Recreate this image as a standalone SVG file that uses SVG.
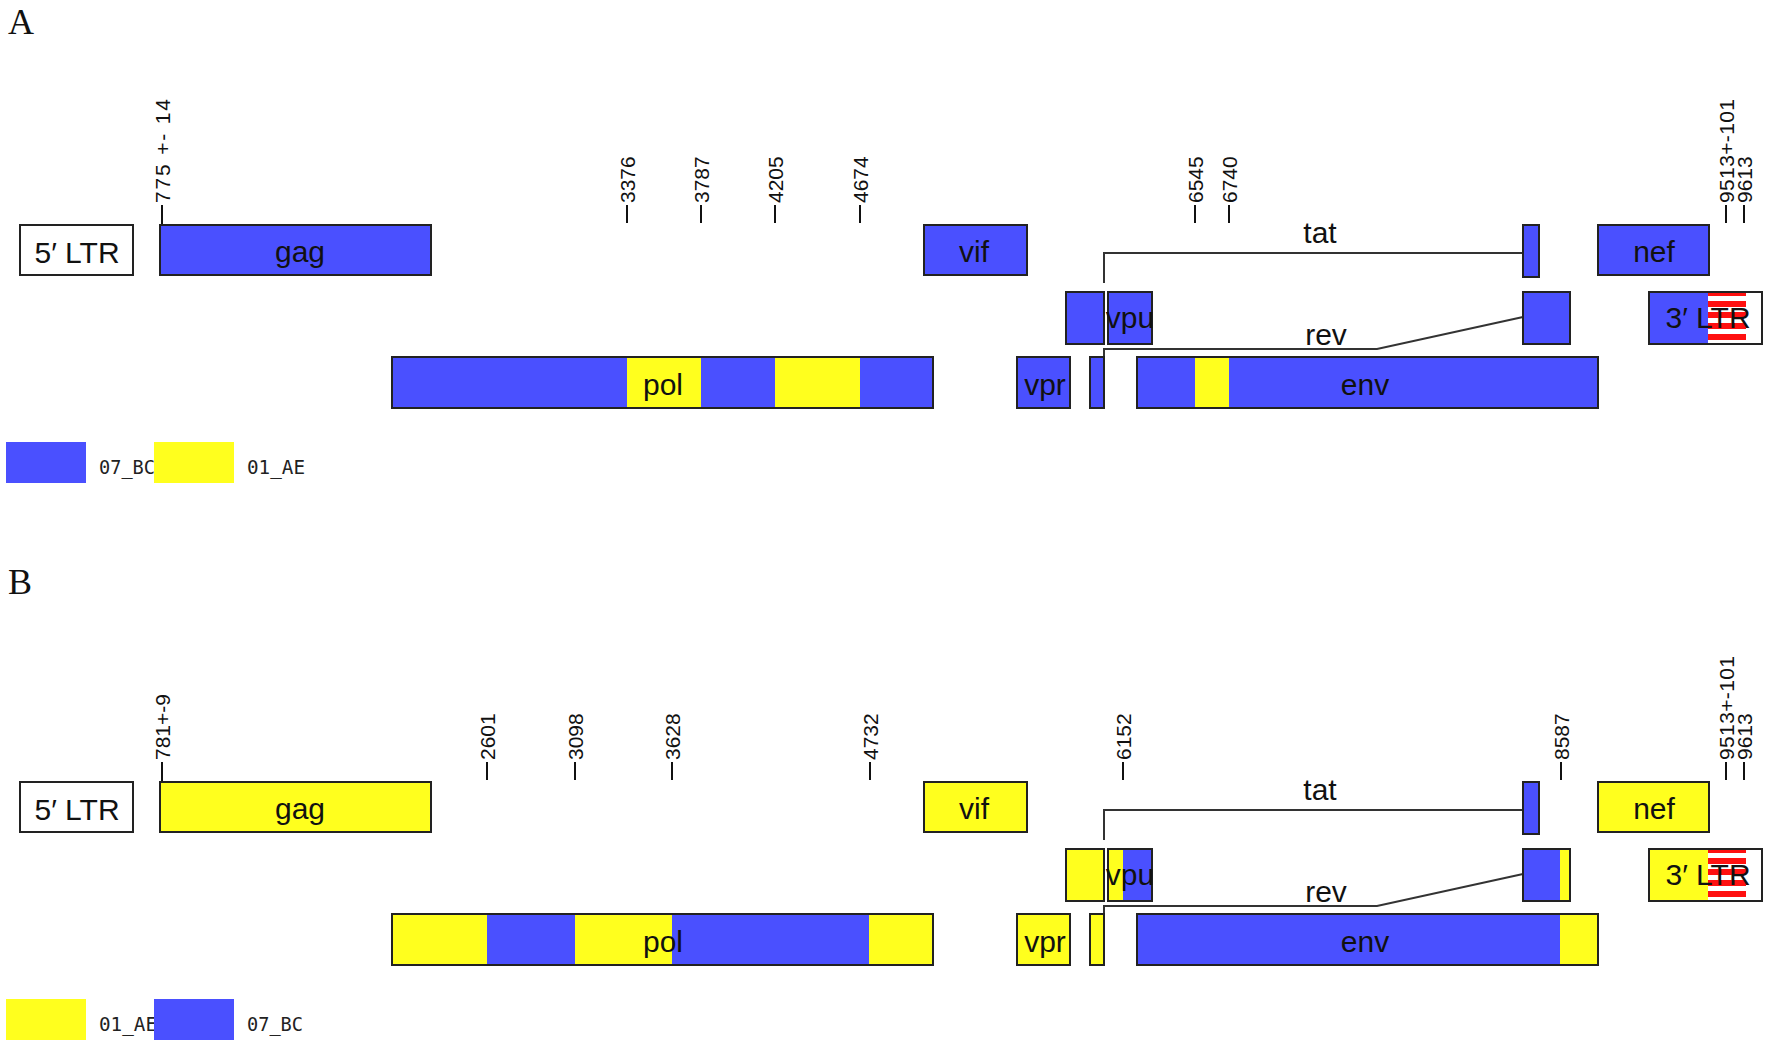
<svg xmlns="http://www.w3.org/2000/svg" width="1772" height="1048" viewBox="0 0 1772 1048">
<defs>
<style>
.bl{fill:#4a50ff}
.ye{fill:#ffff1e}
.wh{fill:#ffffff}
.rd{fill:#ff1010}
.ol{fill:none;stroke:#222;stroke-width:2}
.gl{font-family:"Liberation Sans",Arial,sans-serif;font-size:30px;text-anchor:middle;fill:#111}
.tk{font-family:"Liberation Sans",Arial,sans-serif;font-size:21px;fill:#111}
.tl{stroke:#111;stroke-width:2}
.lg{font-family:"DejaVu Sans Mono",monospace;font-size:19px;fill:#222}
.pn{font-family:"Liberation Serif","Times New Roman",serif;font-size:36px;fill:#111}
.cn{fill:none;stroke:#333;stroke-width:2}
</style>
<g id="stripes">
<rect class="wh" x="1708" y="293" width="38" height="51"/>
<rect class="rd" x="1708" y="293" width="38" height="3"/>
<rect class="rd" x="1708" y="301" width="38" height="6"/>
<rect class="rd" x="1708" y="312" width="38" height="6"/>
<rect class="rd" x="1708" y="323" width="38" height="6"/>
<rect class="rd" x="1708" y="334" width="38" height="6"/>
</g>
</defs>
<rect width="1772" height="1048" fill="#ffffff"/>

<!-- ================= PANEL A ================= -->
<g id="panelA">
<text class="pn" x="8" y="34">A</text>

<g id="A-ticks">
<line class="tl" x1="162" y1="205" x2="162" y2="224"/><text class="tk" transform="translate(170,203) rotate(-90)" textLength="104" lengthAdjust="spacing">775 +- 14</text>
<line class="tl" x1="627" y1="205" x2="627" y2="223"/><text class="tk" transform="translate(635,203) rotate(-90)">3376</text>
<line class="tl" x1="701" y1="205" x2="701" y2="223"/><text class="tk" transform="translate(709,203) rotate(-90)">3787</text>
<line class="tl" x1="775" y1="205" x2="775" y2="223"/><text class="tk" transform="translate(783,203) rotate(-90)">4205</text>
<line class="tl" x1="860" y1="205" x2="860" y2="223"/><text class="tk" transform="translate(868,203) rotate(-90)">4674</text>
<line class="tl" x1="1195" y1="205" x2="1195" y2="223"/><text class="tk" transform="translate(1203,203) rotate(-90)">6545</text>
<line class="tl" x1="1229" y1="205" x2="1229" y2="223"/><text class="tk" transform="translate(1237,203) rotate(-90)">6740</text>
<line class="tl" x1="1726" y1="205" x2="1726" y2="223"/><text class="tk" transform="translate(1734,203) rotate(-90)" textLength="104" lengthAdjust="spacing">9513+-101</text>
<line class="tl" x1="1744" y1="205" x2="1744" y2="223"/><text class="tk" transform="translate(1752,203) rotate(-90)">9613</text>
</g>

<g id="A-connectors">
<polyline class="cn" points="1104,283 1104,253 1523,253"/>
<polyline class="cn" points="1104,408 1104,349 1377,349 1523,317"/>
</g>

<g id="A-5LTR"><rect class="wh" x="20" y="225" width="113" height="50"/><rect class="ol" x="20" y="225" width="113" height="50"/><text class="gl" x="77" y="263">5′ LTR</text></g>
<g id="A-gag"><rect class="bl" x="160" y="225" width="271" height="50"/><rect class="ol" x="160" y="225" width="271" height="50"/><text class="gl" x="300" y="262">gag</text></g>
<g id="A-pol"><rect class="bl" x="392" y="357" width="541" height="51"/><rect class="ye" x="627" y="357" width="74" height="51"/><rect class="ye" x="775" y="357" width="85" height="51"/><rect class="ol" x="392" y="357" width="541" height="51"/><text class="gl" x="663" y="395">pol</text></g>
<g id="A-vif"><rect class="bl" x="924" y="225" width="103" height="50"/><rect class="ol" x="924" y="225" width="103" height="50"/><text class="gl" x="974" y="262">vif</text></g>
<g id="A-vpr"><rect class="bl" x="1017" y="357" width="53" height="51"/><rect class="ol" x="1017" y="357" width="53" height="51"/><text class="gl" x="1045" y="395">vpr</text></g>
<g id="A-tat1"><rect class="bl" x="1066" y="292" width="38" height="52"/><rect class="ol" x="1066" y="292" width="38" height="52"/></g>
<g id="A-vpu"><rect class="bl" x="1108" y="292" width="44" height="52"/><rect class="ol" x="1108" y="292" width="44" height="52"/><text class="gl" x="1130" y="328">vpu</text></g>
<g id="A-rev1"><rect class="bl" x="1090" y="357" width="14" height="51"/><rect class="ol" x="1090" y="357" width="14" height="51"/></g>
<g id="A-env"><rect class="bl" x="1137" y="357" width="461" height="51"/><rect class="ye" x="1195" y="357" width="34" height="51"/><rect class="ol" x="1137" y="357" width="461" height="51"/><text class="gl" x="1365" y="395">env</text></g>
<g id="A-tat"><rect class="bl" x="1523" y="225" width="16" height="52"/><rect class="ol" x="1523" y="225" width="16" height="52"/><text class="gl" x="1320" y="243">tat</text></g>
<g id="A-rev"><rect class="bl" x="1523" y="292" width="47" height="52"/><rect class="ol" x="1523" y="292" width="47" height="52"/><text class="gl" x="1326" y="345">rev</text></g>
<g id="A-nef"><rect class="bl" x="1598" y="225" width="111" height="50"/><rect class="ol" x="1598" y="225" width="111" height="50"/><text class="gl" x="1654" y="262">nef</text></g>
<g id="A-3LTR"><rect class="wh" x="1649" y="292" width="113" height="52"/><rect class="bl" x="1649" y="292" width="59" height="52"/><use href="#stripes"/><rect class="ol" x="1649" y="292" width="113" height="52"/><text class="gl" x="1708" y="328">3′ LTR</text></g>

<g id="A-legend">
<rect class="bl" x="6" y="442" width="80" height="41"/>
<text class="lg" x="99" y="474" textLength="56" lengthAdjust="spacingAndGlyphs">07_BC</text>
<rect class="ye" x="154" y="442" width="80" height="41"/>
<text class="lg" x="247" y="474" textLength="58" lengthAdjust="spacingAndGlyphs">01_AE</text>
</g>
</g>

<!-- ================= PANEL B ================= -->
<g id="panelB" transform="translate(0,557)">
<text class="pn" x="8" y="37">B</text>

<g id="B-ticks">
<line class="tl" x1="162" y1="205" x2="162" y2="224"/><text class="tk" transform="translate(170,203) rotate(-90)">781+-9</text>
<line class="tl" x1="487" y1="205" x2="487" y2="223"/><text class="tk" transform="translate(495,203) rotate(-90)">2601</text>
<line class="tl" x1="575" y1="205" x2="575" y2="223"/><text class="tk" transform="translate(583,203) rotate(-90)">3098</text>
<line class="tl" x1="672" y1="205" x2="672" y2="223"/><text class="tk" transform="translate(680,203) rotate(-90)">3628</text>
<line class="tl" x1="870" y1="205" x2="870" y2="223"/><text class="tk" transform="translate(878,203) rotate(-90)">4732</text>
<line class="tl" x1="1123" y1="205" x2="1123" y2="223"/><text class="tk" transform="translate(1131,203) rotate(-90)">6152</text>
<line class="tl" x1="1561" y1="205" x2="1561" y2="223"/><text class="tk" transform="translate(1569,203) rotate(-90)">8587</text>
<line class="tl" x1="1726" y1="205" x2="1726" y2="223"/><text class="tk" transform="translate(1734,203) rotate(-90)" textLength="104" lengthAdjust="spacing">9513+-101</text>
<line class="tl" x1="1744" y1="205" x2="1744" y2="223"/><text class="tk" transform="translate(1752,203) rotate(-90)">9613</text>
</g>

<g id="B-connectors">
<polyline class="cn" points="1104,283 1104,253 1523,253"/>
<polyline class="cn" points="1104,408 1104,349 1377,349 1523,317"/>
</g>

<g id="B-5LTR"><rect class="wh" x="20" y="225" width="113" height="50"/><rect class="ol" x="20" y="225" width="113" height="50"/><text class="gl" x="77" y="263">5′ LTR</text></g>
<g id="B-gag"><rect class="ye" x="160" y="225" width="271" height="50"/><rect class="ol" x="160" y="225" width="271" height="50"/><text class="gl" x="300" y="262">gag</text></g>
<g id="B-pol"><rect class="ye" x="392" y="357" width="541" height="51"/><rect class="bl" x="487" y="357" width="88" height="51"/><rect class="bl" x="672" y="357" width="197" height="51"/><rect class="ol" x="392" y="357" width="541" height="51"/><text class="gl" x="663" y="395">pol</text></g>
<g id="B-vif"><rect class="ye" x="924" y="225" width="103" height="50"/><rect class="ol" x="924" y="225" width="103" height="50"/><text class="gl" x="974" y="262">vif</text></g>
<g id="B-vpr"><rect class="ye" x="1017" y="357" width="53" height="51"/><rect class="ol" x="1017" y="357" width="53" height="51"/><text class="gl" x="1045" y="395">vpr</text></g>
<g id="B-tat1"><rect class="ye" x="1066" y="292" width="38" height="52"/><rect class="ol" x="1066" y="292" width="38" height="52"/></g>
<g id="B-vpu"><rect class="ye" x="1108" y="292" width="44" height="52"/><rect class="bl" x="1123" y="292" width="29" height="52"/><rect class="ol" x="1108" y="292" width="44" height="52"/><text class="gl" x="1130" y="328">vpu</text></g>
<g id="B-rev1"><rect class="ye" x="1090" y="357" width="14" height="51"/><rect class="ol" x="1090" y="357" width="14" height="51"/></g>
<g id="B-env"><rect class="bl" x="1137" y="357" width="461" height="51"/><rect class="ye" x="1560" y="357" width="38" height="51"/><rect class="ol" x="1137" y="357" width="461" height="51"/><text class="gl" x="1365" y="395">env</text></g>
<g id="B-tat"><rect class="bl" x="1523" y="225" width="16" height="52"/><rect class="ol" x="1523" y="225" width="16" height="52"/><text class="gl" x="1320" y="243">tat</text></g>
<g id="B-rev"><rect class="bl" x="1523" y="292" width="47" height="52"/><rect class="ye" x="1560" y="292" width="10" height="52"/><rect class="ol" x="1523" y="292" width="47" height="52"/><text class="gl" x="1326" y="345">rev</text></g>
<g id="B-nef"><rect class="ye" x="1598" y="225" width="111" height="50"/><rect class="ol" x="1598" y="225" width="111" height="50"/><text class="gl" x="1654" y="262">nef</text></g>
<g id="B-3LTR"><rect class="wh" x="1649" y="292" width="113" height="52"/><rect class="ye" x="1649" y="292" width="59" height="52"/><use href="#stripes"/><rect class="ol" x="1649" y="292" width="113" height="52"/><text class="gl" x="1708" y="328">3′ LTR</text></g>

<g id="B-legend">
<rect class="ye" x="6" y="442" width="80" height="41"/>
<text class="lg" x="99" y="474" textLength="58" lengthAdjust="spacingAndGlyphs">01_AE</text>
<rect class="bl" x="154" y="442" width="80" height="41"/>
<text class="lg" x="247" y="474" textLength="56" lengthAdjust="spacingAndGlyphs">07_BC</text>
</g>
</g>
</svg>
